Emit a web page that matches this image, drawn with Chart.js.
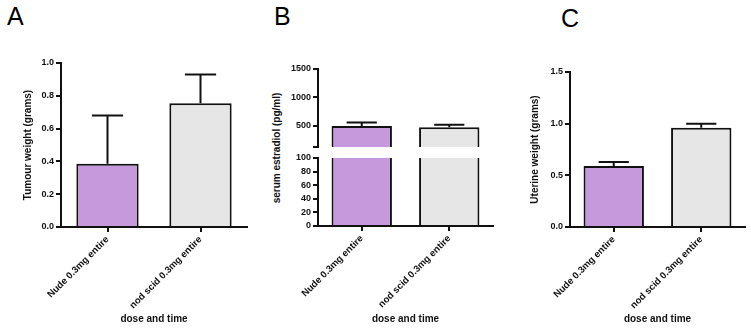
<!DOCTYPE html>
<html>
<head>
<meta charset="utf-8">
<script src="https://cdn.jsdelivr.net/npm/chart.js@4/dist/chart.umd.min.js"></script>
<style>
  html, body { margin: 0; padding: 0; background: #fff; }
  #wrap { position: relative; width: 751px; height: 328px; overflow: hidden; }
  canvas { position: absolute; top: 0; }
  .letter { position: absolute; font: 25px "Liberation Sans", Arial, sans-serif; line-height: 25px; color: #000; }
  .ytitle { position: absolute; width: 160px; text-align: center; font: bold 10px "Liberation Sans", Arial, sans-serif;
            line-height: 12px; color: #111; transform: rotate(-90deg); }
</style>
</head>
<body>
<div id="wrap">
  <div class="letter" style="left:7px;top:4px">A</div>
  <div class="letter" style="left:274px;top:4px">B</div>
  <div class="letter" style="left:561px;top:6px">C</div>
  <div class="ytitle" style="left:197px;top:142px">serum estradiol (pg/ml)</div>
  <canvas id="chartA" width="250" height="328" style="left:0"></canvas>
  <canvas id="chartBtop" width="260" height="328" style="left:250px"></canvas>
  <canvas id="chartBbot" width="260" height="328" style="left:250px"></canvas>
  <canvas id="chartC" width="251" height="328" style="left:500px"></canvas>
</div>
<script>
// data
const groups = ['Nude 0.3mg entire', 'nod scid 0.3mg entire'];
const barColors = ['#C699DC', '#E6E6E6'];

const tumourMean = [0.385, 0.755];
const tumourErr = [0.295, 0.175];

const estradiolMean = [500, 475];
const estradiolErr = [60, 45];
const estradiolTopTicks = [500, 1000, 1500];
const estradiolBreak = 130;   // lower end of the upper segment
const estradiolLowTicks = [0, 20, 40, 60, 80, 100];

const uterineMean = [0.59, 0.96];
const uterineErr = [0.04, 0.04];

const tickFont = { family: 'Liberation Sans', size: 9, weight: 'bold' };
const catFont = { family: 'Liberation Sans', size: 9.5, weight: 'bold' };
const titleFont = { family: 'Liberation Sans', size: 10, weight: 'bold' };

// draws sem error bars above each bar
const errorBars = {
  id: 'errorBars',
  afterDatasetsDraw(chart) {
    const errs = chart.options.plugins.errorBars.errors;
    if (!errs) return;
    const ctx = chart.ctx;
    const y = chart.scales.y;
    const ds = chart.data.datasets[0];
    chart.getDatasetMeta(0).data.forEach((bar, i) => {
      const top = y.getPixelForValue(ds.data[i] + errs[i]);
      const half = bar.width / 4;
      ctx.save();
      ctx.strokeStyle = '#111';
      ctx.lineWidth = 2;
      ctx.beginPath();
      ctx.moveTo(bar.x, bar.y);
      ctx.lineTo(bar.x, top);
      ctx.moveTo(bar.x - half, top);
      ctx.lineTo(bar.x + half, top);
      ctx.stroke();
      ctx.restore();
    });
  }
};

function makeBar(id, values, errs, o) {
  return new Chart(document.getElementById(id), {
    type: 'bar',
    data: {
      labels: groups,
      datasets: [{
        data: values,
        backgroundColor: barColors,
        borderColor: '#111',
        borderWidth: 2,
        barPercentage: o.barPct,
        categoryPercentage: 1,
        clip: 0
      }]
    },
    options: {
      responsive: false,
      animation: false,
      layout: { padding: o.padding },
      plugins: {
        legend: { display: false },
        tooltip: { enabled: false },
        errorBars: { errors: errs }
      },
      scales: {
        x: {
          display: o.showX,
          offset: true,
          grid: { offset: false, drawOnChartArea: false, drawTicks: true, tickLength: 5, color: '#111', lineWidth: 2 },
          border: { display: true, color: '#111', width: 2 },
          ticks: { font: catFont, color: '#111', minRotation: 45, maxRotation: 45, padding: 2, autoSkip: false },
          title: { display: true, text: 'dose and time', font: titleFont, color: '#111', padding: { top: 4, bottom: 3 } },
          afterFit: s => { s.height = o.xHeight; }
        },
        y: {
          min: o.min,
          max: o.max,
          grid: { drawOnChartArea: false, drawTicks: true, tickLength: 5, color: '#111', lineWidth: 2 },
          border: { display: true, color: '#111', width: 2 },
          ticks: {
            font: tickFont, color: '#111', padding: 2, autoSkip: false,
            callback: o.label
          },
          afterBuildTicks: s => { s.ticks = o.ticks.map(v => ({ value: v })); },
          title: { display: !!o.yTitle, text: o.yTitle || '', font: titleFont, color: '#111', padding: { top: 4, bottom: 4 } },
          afterFit: s => { s.width = o.yWidth; }
        }
      }
    },
    plugins: [errorBars]
  });
}

// A - tumour weight
makeBar('chartA', tumourMean, tumourErr, {
  barPct: 0.67, min: 0, max: 1.0,
  ticks: [0, 0.2, 0.4, 0.6, 0.8, 1.0], label: v => v.toFixed(1),
  yTitle: 'Tumour weight (grams)', yWidth: 43, xHeight: 101, showX: true,
  padding: { left: 18, top: 63, right: 3, bottom: 0 }
});

// B - estradiol, broken axis drawn as two stacked charts
makeBar('chartBtop', estradiolMean, estradiolErr, {
  barPct: 0.69, min: estradiolBreak, max: 1500,
  ticks: [estradiolBreak].concat(estradiolTopTicks), label: v => (v === estradiolBreak ? '' : v),
  yWidth: 68, xHeight: 0, showX: false,
  padding: { left: 0, top: 69, right: 17, bottom: 181 }
});
makeBar('chartBbot', estradiolMean, null, {
  barPct: 0.69, min: 0, max: 100,
  ticks: estradiolLowTicks, label: v => v,
  yWidth: 68, xHeight: 102, showX: true,
  padding: { left: 0, top: 158, right: 17, bottom: 0 }
});

// C - uterine weight
makeBar('chartC', uterineMean, uterineErr, {
  barPct: 0.69, min: 0, max: 1.5,
  ticks: [0, 0.5, 1.0, 1.5], label: v => v.toFixed(1),
  yTitle: 'Uterine weight (grams)', yWidth: 45, xHeight: 101, showX: true,
  padding: { left: 25, top: 72, right: 6, bottom: 0 }
});
</script>
</body>
</html>
